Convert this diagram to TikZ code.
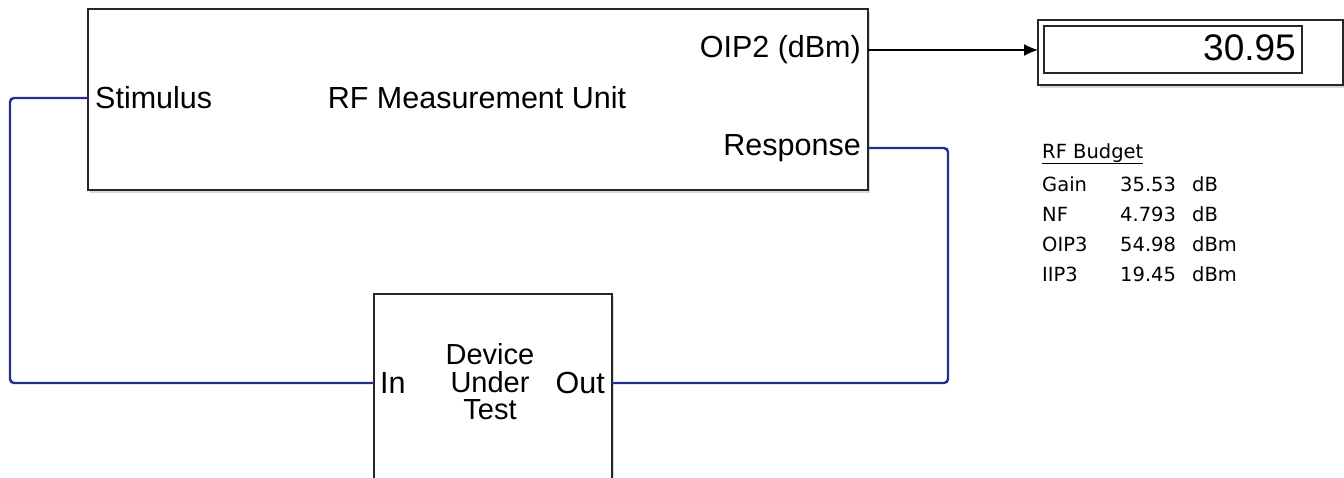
\documentclass[tikz,border=0pt]{standalone}
\usepackage{fontspec}
\setmainfont{Liberation Sans}
\newfontfamily\budgetfont{DejaVu Sans}
\usetikzlibrary{arrows.meta,shadows}
\definecolor{wireblue}{RGB}{35,45,145}
\newcommand\blockfont{\fontsize{30.5}{27.5}\selectfont}
\tikzset{
  block/.style={draw=black!85,line width=1.8pt,fill=white,
    drop shadow={shadow xshift=2pt,shadow yshift=-3pt,opacity=0.3}},
  port/.style={inner sep=0pt,font=\blockfont},
  wire/.style={draw=wireblue,line width=2.4pt,rounded corners=4pt},
  budget/.style={inner sep=0pt,anchor=base west,font=\budgetfont\fontsize{19.5}{20}\selectfont}
}
\begin{document}
\begin{tikzpicture}[x=1pt,y=-1pt]
\clip (0,0) rectangle (1344,477);
% blocks
\node[block,minimum width=780pt,minimum height=181pt] (mu) at (478,99.5) {};
\node[block,minimum width=238pt,minimum height=190pt] (dut) at (493,389) {};
\node[block,minimum width=305pt,minimum height=65pt] (disp) at (1190.5,52.5) {};
\draw[line width=1.5pt,draw=black!85] (1044,26) rectangle (1302,73);
% labels
\node[font=\blockfont,inner sep=0pt] (mutitle) at (477,98) {RF Measurement Unit};
\node[port,anchor=west] (stim) at (95,98) {Stimulus};
\node[port,anchor=east] (oip2) at (861,50) {OIP2 (dBm)};
\node[port,anchor=east] (resp) at (861,148) {Response};
\node[font=\fontsize{29}{27.5}\selectfont,inner sep=0pt,align=center] (duttitle) at (490,382) {Device\\Under\\Test};
\node[port,anchor=west] (in) at (380,383) {In};
\node[port,anchor=east] (out) at (605,383) {Out};
\node[inner sep=0pt,anchor=east,font=\fontsize{37}{40}\selectfont] (value) at (1296,48) {30.95};
% ports
\coordinate (pstim) at (89,98);
\coordinate (poip2) at (868,50);
\coordinate (presp) at (868,148);
\coordinate (pin) at (374,383);
\coordinate (pout) at (612,383);
\coordinate (pdisp) at (1038,50);
% connectors
\draw[line width=1.3pt,-{Latex[length=14pt,width=12pt]}] (poip2) -- (pdisp);
\draw[wire] (pstim) -- ++(-79,0) |- (pin);
\draw[wire] (presp) -- ++(80,0) |- (pout);
% rf budget
\node[budget] (rfb) at (1042,158) {\underline{RF Budget}};
\foreach \name/\val/\unit [count=\i] in {Gain/35.53/dB,NF/4.793/dB,OIP3/54.98/dBm,IIP3/19.45/dBm}{
  \node[budget] (lab\i) at (1042,{161+30*\i}) {\name};
  \node[budget] (val\i) at (1120,{161+30*\i}) {\val};
  \node[budget] (unit\i) at (1192,{161+30*\i}) {\unit};
}
\end{tikzpicture}
\end{document}
